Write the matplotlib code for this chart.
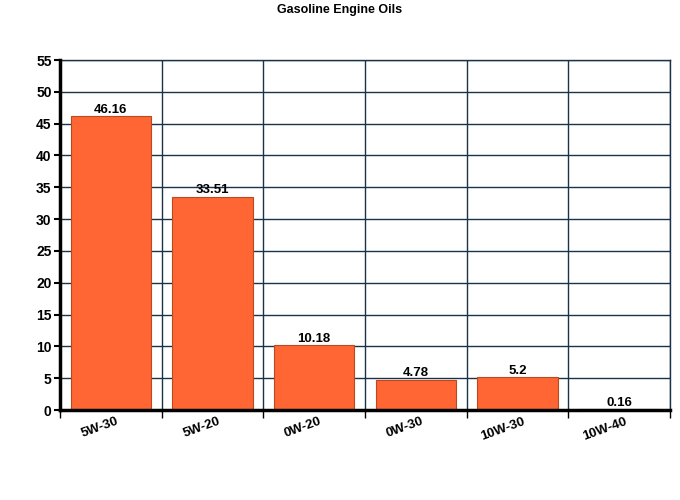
import numpy as np
import matplotlib
matplotlib.use('Agg')
import matplotlib.pyplot as plt
import matplotlib.transforms as mtransforms

# 数据
categories = ['5W-30', '5W-20', '0W-20', '0W-30', '10W-30', '10W-40']
values = [46.16, 33.51, 10.18, 4.78, 5.2, 0.16]
value_labels = ['46.16', '33.51', '10.18', '4.78', '5.2', '0.16']
y_ticks = [0, 5, 10, 15, 20, 25, 30, 35, 40, 45, 50, 55]

plt.rcParams['font.family'] = ['Liberation Sans', 'DejaVu Sans']
plt.rcParams['font.weight'] = 'bold'

grid_color = '#1b3349'

fig = plt.figure(figsize=(6.8, 5.0), dpi=100)
ax = fig.add_axes([60 / 680, 90 / 500, 610 / 680, 350 / 500])

index = np.arange(len(categories))
ax.bar(index, values, 0.79, color='#ff6633', edgecolor='#b84a22', linewidth=0.8, zorder=3)

# 数值标签
for i, v in enumerate(values):
    ax.text(i, v + 0.05, value_labels[i], ha='center', va='bottom', fontsize=9.5, fontweight='bold', zorder=4)

ax.set_xlim(-0.5, len(categories) - 0.5)
ax.set_ylim(0, 55)
ax.set_yticks(y_ticks)
ax.set_yticklabels([str(t) for t in y_ticks], fontsize=10, fontweight='bold')

# 类别边界的竖线
ax.set_xticks(index)
ax.set_xticklabels(categories, rotation=20, fontsize=9.5, fontweight='bold', ha='right')
ax.tick_params(axis='x', length=0, pad=4)
ax.set_xticks(np.arange(-0.5, len(categories)), minor=True)
ax.tick_params(axis='x', which='minor', length=6, width=1, color='black')
ax.tick_params(axis='y', length=4, width=1.5, color='black', pad=2)

ax.grid(True, axis='y', color=grid_color, linewidth=1, zorder=0)
ax.grid(True, axis='x', which='minor', color=grid_color, linewidth=1, zorder=0)

for side in ['top', 'right']:
    ax.spines[side].set_color(grid_color)
    ax.spines[side].set_linewidth(1)
for side in ['left', 'bottom']:
    ax.spines[side].set_color('black')
    ax.spines[side].set_linewidth(2.5)
    ax.spines[side].set_zorder(5)

# x 轴标签稍微右移
offset = mtransforms.ScaledTranslation(6.5 / 72, 0, fig.dpi_scale_trans)
for lbl in ax.get_xticklabels():
    lbl.set_transform(lbl.get_transform() + offset)

fig.suptitle('Gasoline Engine Oils', fontsize=9, fontweight='bold', y=0.993)

plt.savefig('out.png', dpi=100)
